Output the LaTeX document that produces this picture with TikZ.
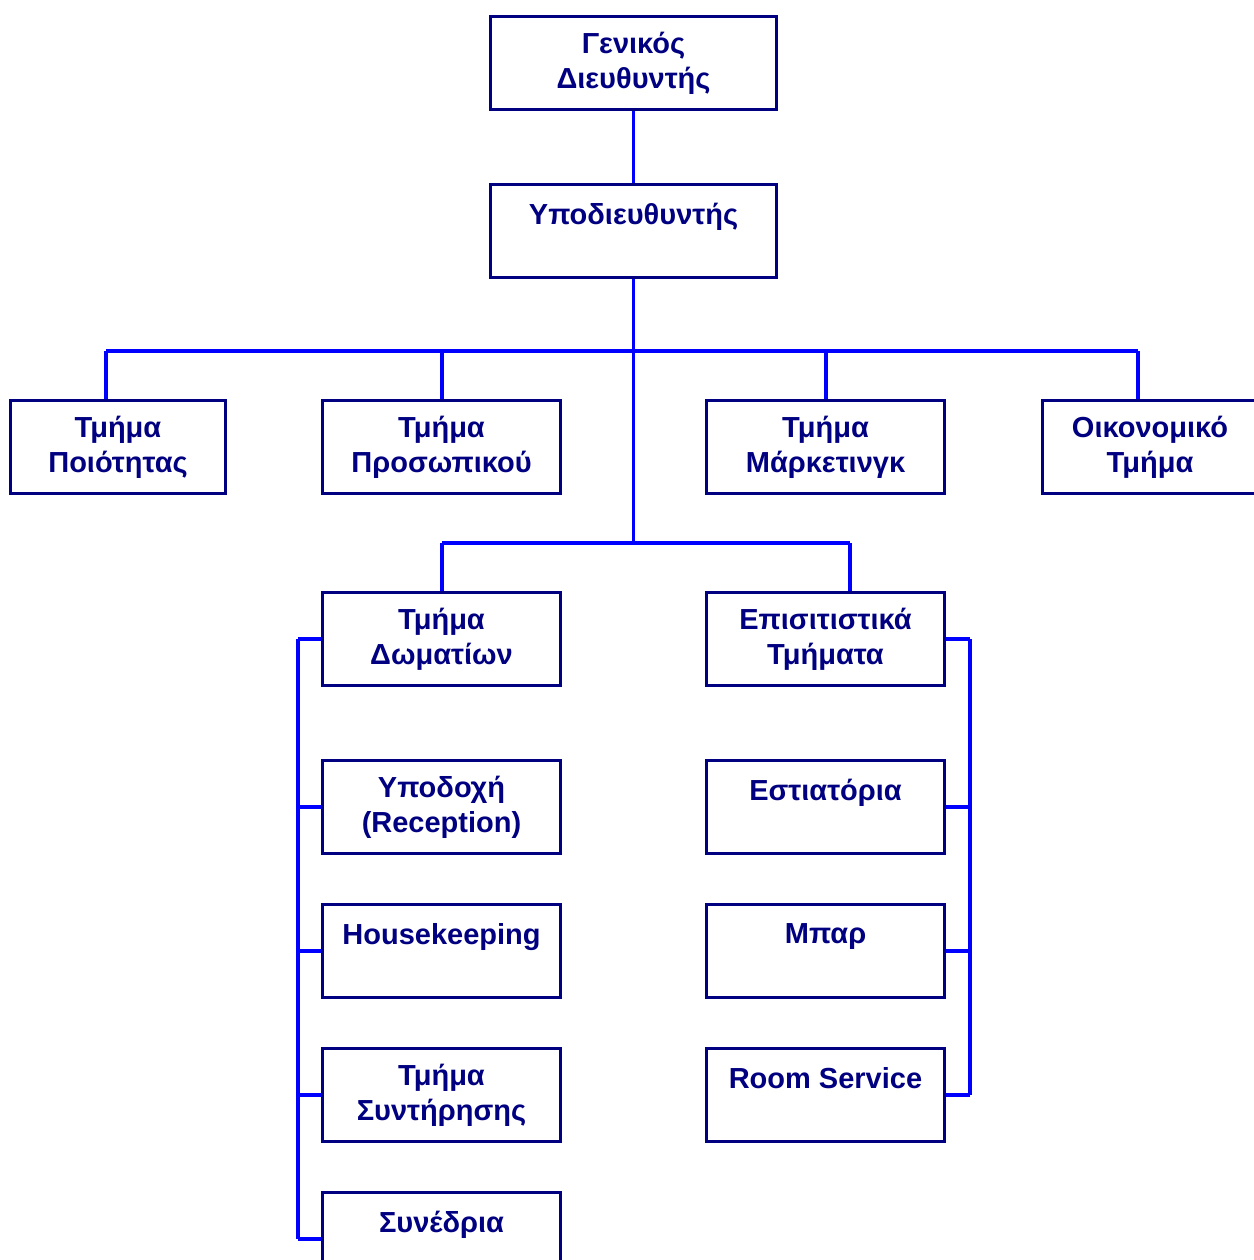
\documentclass[tikz,border=0pt]{standalone}
\usepackage{fontspec}
\setmainfont{Liberation Sans}
\definecolor{boxnavy}{HTML}{000080}
\definecolor{linkblue}{HTML}{0000FF}
\begin{document}
\begin{tikzpicture}[x=1pt,y=-1pt,
  box/.style={draw=boxnavy, line width=3.4pt, fill=white, text=boxnavy,
    align=center, inner sep=0pt,
    font=\fontsize{29pt}{35pt}\selectfont\bfseries},
  wide/.style={box, minimum width=238pt, minimum height=93pt},
  link/.style={draw=linkblue, line width=3.2pt}]
\useasboundingbox (0,0) rectangle (1253,1260);
\fill[white] (0,0) rectangle (1253,1260);

% bus junctions
\coordinate (busL) at (106,351);
\coordinate (busR) at (1138,351);
\coordinate (busP) at (442,351);
\coordinate (busM) at (826,351);
\coordinate (lowC) at (633.5,543);
\coordinate (lowL) at (442,543);
\coordinate (lowR) at (850,543);
\coordinate (spL) at (298,639);
\coordinate (spLb) at (298,1239);
\coordinate (spR) at (970,639);
\coordinate (spRb) at (970,1095);

% management
\node[box, minimum width=286pt, minimum height=93pt] (gm) at (633.5,63) {Γενικός\\Διευθυντής};
\node[box, minimum width=286pt, minimum height=93pt] (dep) at (633.5,231) {Υποδιευθυντής\\\mbox{}};

% first level departments
\node[box, minimum width=215pt, minimum height=93pt] (qual) at (118,447) {Τμήμα\\Ποιότητας};
\node[wide] (pers) at (441.5,447) {Τμήμα\\Προσωπικού};
\node[wide] (mkt) at (825.5,447) {Τμήμα\\Μάρκετινγκ};
\node[box, minimum width=215pt, minimum height=93pt] (fin) at (1150,447) {Οικονομικό\\Τμήμα};

% operational divisions
\node[wide] (rooms) at (441.5,639) {Τμήμα\\Δωματίων};
\node[wide] (food) at (825.5,639) {Επισιτιστικά\\Τμήματα};

% rooms division units
\node[wide] (rec) at (441.5,807) {Υποδοχή\\(Reception)};
\node[wide] (hk) at (441.5,951) {Housekeeping\\\mbox{}};
\node[wide] (mnt) at (441.5,1095) {Τμήμα\\Συντήρησης};
\node[wide] (conf) at (441.5,1239) {Συνέδρια\\\mbox{}};

% food and beverage units
\node[wide] (rest) at (825.5,807) {Εστιατόρια\\\mbox{}};
\node[wide] (bar) at (825.5,951) {Μπαρ\\\mbox{}};
\node[wide] (rs) at (825.5,1095) {Room Service\\\mbox{}};

% connectors
\draw[link] (gm.south) -- (dep.north);
\draw[link] (dep.south) -- (lowC);
\draw[link] (busL) -- (busR);
\draw[link] (busL) -- (busL |- qual.north);
\draw[link] (busP) -- (busP |- pers.north);
\draw[link] (busM) -- (busM |- mkt.north);
\draw[link] (busR) -- (busR |- fin.north);
\draw[link] (lowL) -- (lowR);
\draw[link] (lowL) -- (lowL |- rooms.north);
\draw[link] (lowR) -- (lowR |- food.north);

\draw[link] (spL) -- (spLb);
\draw[link] (spL) -- (rooms.west);
\draw[link] (spL |- rec.west) -- (rec.west);
\draw[link] (spL |- hk.west) -- (hk.west);
\draw[link] (spL |- mnt.west) -- (mnt.west);
\draw[link] (spLb) -- (conf.west);

\draw[link] (spR) -- (spRb);
\draw[link] (spR) -- (food.east);
\draw[link] (spR |- rest.east) -- (rest.east);
\draw[link] (spR |- bar.east) -- (bar.east);
\draw[link] (spRb) -- (rs.east);
\end{tikzpicture}
\end{document}
